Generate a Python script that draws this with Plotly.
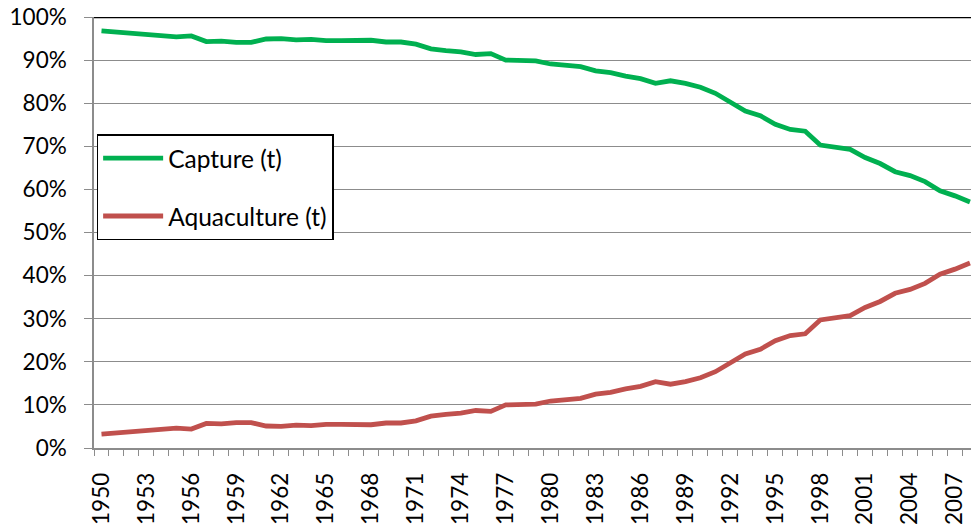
import plotly.graph_objects as go

years = list(range(1950, 2009))
capture = [96.8, 96.5, 96.2, 95.8, 95.6, 95.4, 95.6, 94.3, 94.4, 94.1,
           94.1, 94.9, 95.0, 94.7, 94.8, 94.5, 94.5, 94.6, 94.6, 94.2,
           94.2, 93.7, 92.6, 92.2, 91.9, 91.3, 91.5, 90.0, 90.0, 89.8,
           89.1, 88.8, 88.5, 87.5, 87.1, 86.3, 85.7, 84.6, 85.2, 84.6,
           83.7, 82.3, 80.4, 78.2, 77.1, 75.1, 73.9, 73.5, 70.3, 69.9,
           69.3, 67.4, 66.0, 64.1, 63.2, 61.8, 59.7, 58.5, 57.1]
aquaculture = [3.2, 3.5, 3.8, 4.2, 4.4, 4.6, 4.4, 5.7, 5.6, 5.9,
               5.9, 5.1, 5.0, 5.3, 5.2, 5.5, 5.5, 5.4, 5.4, 5.8,
               5.8, 6.3, 7.4, 7.8, 8.1, 8.7, 8.5, 10.0, 10.0, 10.2,
               10.9, 11.2, 11.5, 12.5, 12.9, 13.7, 14.3, 15.4, 14.8, 15.4,
               16.3, 17.7, 19.6, 21.8, 22.9, 24.9, 26.1, 26.5, 29.7, 30.1,
               30.7, 32.6, 34.0, 35.9, 36.8, 38.2, 40.3, 41.5, 42.9]
label_years = list(range(1950, 2009, 3))
y_ticks = list(range(0, 101, 10))

FONT = "Lato"
GRID = "#8c8c8c"

fig = go.Figure()
fig.add_trace(go.Scatter(x=years, y=capture, mode="lines", name="Capture (t)",
                         line=dict(color="#00B050", width=4.8), legendgroup="a"))
fig.add_trace(go.Scatter(x=years, y=aquaculture, mode="lines", name="Aquaculture (t)",
                         line=dict(color="#C0504D", width=4.8), legendgroup="b"))

fig.add_shape(type="line", xref="paper", yref="y", x0=0, x1=1, y0=100, y1=100,
              line=dict(color="black", width=2.5), layer="above")

fig.update_layout(
    width=971, height=529,
    margin=dict(l=94, r=0, t=17, b=81),
    paper_bgcolor="white", plot_bgcolor="white",
    font=dict(family=FONT, size=22, color="black"),
    showlegend=True,
    legend=dict(x=0.003, y=0.728, xanchor="left", yanchor="top",
                bgcolor="white", bordercolor="black", borderwidth=1.5,
                font=dict(family=FONT, size=24.5), tracegroupgap=23,
                itemwidth=60),
    xaxis=dict(range=[1949.5, 2008.07], tickvals=label_years,
               ticktext=[str(y) for y in label_years], tickangle=-90,
               ticks="", showgrid=False, showline=True, linecolor=GRID, linewidth=1.5,
               ticklabelstandoff=14, zeroline=False, automargin=False,
               minor=dict(tickvals=[y - 0.5 for y in years] + [2008.5], ticks="outside",
                          ticklen=6, tickcolor=GRID, tickwidth=1.2, showgrid=False),
               tickfont=dict(family=FONT, size=22.5)),
    yaxis=dict(range=[0, 100], tickvals=y_ticks, ticktext=[f"{v}%" for v in y_ticks],
               ticks="outside", ticklen=8, tickcolor=GRID, tickwidth=1.2,
               showgrid=True, gridcolor=GRID, gridwidth=1.2, automargin=False,
               showline=True, linecolor=GRID, linewidth=1.5, zeroline=False,
               ticklabelstandoff=13,
               tickfont=dict(family=FONT, size=22.5)),
)

fig.write_html("out.html", config={"displayModeBar": False},
               post_script="document.body.style.margin='0';document.body.style.overflow='hidden';")
